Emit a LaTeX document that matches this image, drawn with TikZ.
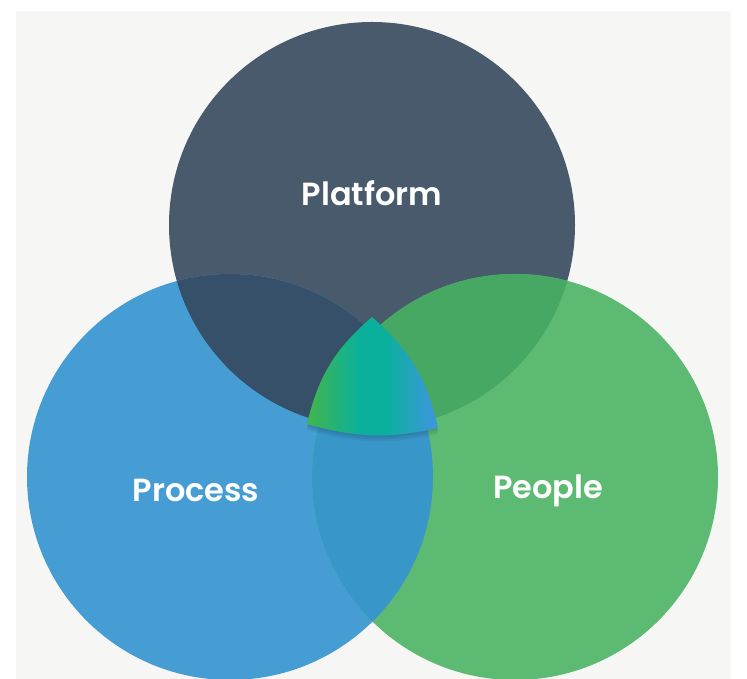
\documentclass[tikz,border=0pt]{standalone}
\usepackage{fontspec}
\newfontfamily\lblfont{Poppins SemiBold}

\definecolor{bgcol}{HTML}{F6F6F5}
\definecolor{platcol}{HTML}{485A6B}
\definecolor{proccol}{HTML}{459DD4}
\definecolor{peoplecol}{HTML}{5CBA73}
\definecolor{platproc}{HTML}{36506A}
\definecolor{platpeople}{HTML}{46A863}
\definecolor{procpeople}{HTML}{3896C9}
\definecolor{coreleft}{HTML}{3DB552}
\definecolor{coremid}{HTML}{0AB09C}
\definecolor{coreright}{HTML}{3A98DA}

\pgfdeclarehorizontalshading{coreshade}{100bp}{color(0bp)=(coreleft); color(27bp)=(coreleft);
  color(45bp)=(coremid); color(55bp)=(coremid); color(73bp)=(coreright); color(100bp)=(coreright)}

\tikzset{
  vennlabel/.style={text=white, font=\lblfont\fontsize{32}{36}\selectfont},
}

\begin{document}
\begin{tikzpicture}[x=1pt,y=1pt]

\useasboundingbox (0,0) rectangle (747,679);

% Background
\fill[bgcol] (16,0) rectangle (731,668);

% Centres of the circles
\coordinate (plat) at (372,454);
\coordinate (proc) at (230,202);
\coordinate (people) at (515,202);

% Circles
\fill[platcol] (plat) circle (203pt);
\fill[proccol] (proc) circle (203pt);
\fill[peoplecol] (people) circle (203pt);

% Overlaps
\begin{scope}
  \clip (plat) circle (203pt);
  \fill[platproc] (proc) circle (203pt);
  \fill[platpeople] (people) circle (203pt);
\end{scope}
\begin{scope}
  \clip (proc) circle (203pt);
  \fill[procpeople] (people) circle (203pt);
\end{scope}

% Centre piece
\coordinate (coreTop) at (372,362);
\coordinate (coreL) at (307,255);
\coordinate (coreR) at (438,251);

\foreach \s in {2,4,6}{
  \begin{scope}[transform canvas={yshift=-\s pt}]
    \fill[black, opacity=.05]
    (coreTop) to[bend right=18] (coreL) to[bend right=14] (coreR) to[bend right=18] cycle;
  \end{scope}
}
\shade[shading=coreshade]
(coreTop) to[bend right=18] (coreL) to[bend right=14] (coreR) to[bend right=18] cycle;

% Labels
\node[vennlabel] (platlbl) at (372,486) {Platform};
\node[vennlabel] (proclbl) at (196,189) {Process};
\node[vennlabel] (peoplelbl) at (548,188) {People};

\end{tikzpicture}
\end{document}
